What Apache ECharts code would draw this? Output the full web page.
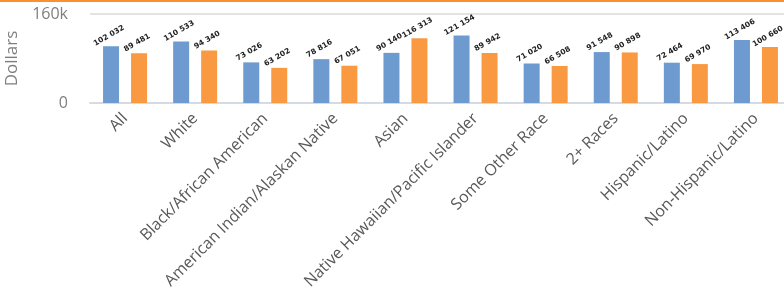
<!DOCTYPE html>
<html>
<head>
<meta charset="utf-8">
<script src="https://cdn.jsdelivr.net/npm/echarts@6/dist/echarts.min.js"></script>
<style>
  html, body { margin: 0; padding: 0; background: #fff; }
  #chart { width: 784px; height: 290px; }
</style>
</head>
<body>
<div id="chart"></div>
<script>
// categories and the two bar series
var categories = ['All', 'White', 'Black/African American', 'American Indian/Alaskan Native', 'Asian',
  'Native Hawaiian/Pacific Islander', 'Some Other Race', '2+ Races', 'Hispanic/Latino', 'Non-Hispanic/Latino']
var seriesA = [102032, 110533, 73026, 78816, 90140, 121154, 71020, 91548, 72464, 113406]
var seriesB = [89481, 94340, 63202, 67051, 116313, 89942, 66508, 90898, 69970, 100660]
var yTicks = [0, 160000]

function fmt (v) {
  return String(v).replace(/\B(?=(\d{3})+(?!\d))/g, ' ')
}

var chart = echarts.init(document.getElementById('chart'))

var barLabel = {
  show: true,
  position: 'top',
  rotate: 30,
  distance: 7,
  fontSize: 7.5,
  fontWeight: 'bold',
  color: '#222',
  fontFamily: 'DejaVu Sans',
  formatter: function (p) { return fmt(p.value) }
}

chart.setOption({
  animation: false,
  graphic: [{
    type: 'rect',
    shape: { x: 0, y: 0, width: 784, height: 2 },
    style: { fill: '#f7922e' }
  }],
  grid: { left: 90, right: -7, top: 14, bottom: 187, containLabel: false, outerBoundsMode: 'none' },
  xAxis: {
    type: 'category',
    data: categories,
    axisLine: { lineStyle: { color: '#d4dbe3', width: 2 } },
    axisTick: { show: false },
    axisLabel: {
      interval: 0,
      rotate: 45,
      margin: 13,
      fontSize: 16,
      color: '#595959',
      fontFamily: 'Open Sans'
    }
  },
  yAxis: {
    type: 'value',
    min: yTicks[0],
    max: yTicks[1],
    interval: 160000,
    name: 'Dollars',
    nameLocation: 'middle',
    nameGap: 69,
    nameTextStyle: { fontSize: 17, color: '#7f7f7f', fontFamily: 'Open Sans' },
    axisLabel: {
      fontSize: 16,
      color: '#7f7f7f',
      margin: 22,
      fontFamily: 'Open Sans',
      formatter: function (v) { return v === 0 ? '0' : (v / 1000) + 'k' }
    },
    splitLine: { lineStyle: { color: '#e3e3e3', width: 2 } }
  },
  series: [{
    type: 'bar',
    data: seriesA,
    barWidth: 16,
    barGap: '75%',
    itemStyle: { color: '#6d9bcf' },
    label: barLabel
  }, {
    type: 'bar',
    data: seriesB,
    barWidth: 16,
    itemStyle: { color: '#f99a43' },
    label: barLabel
  }]
})
</script>
</body>
</html>
